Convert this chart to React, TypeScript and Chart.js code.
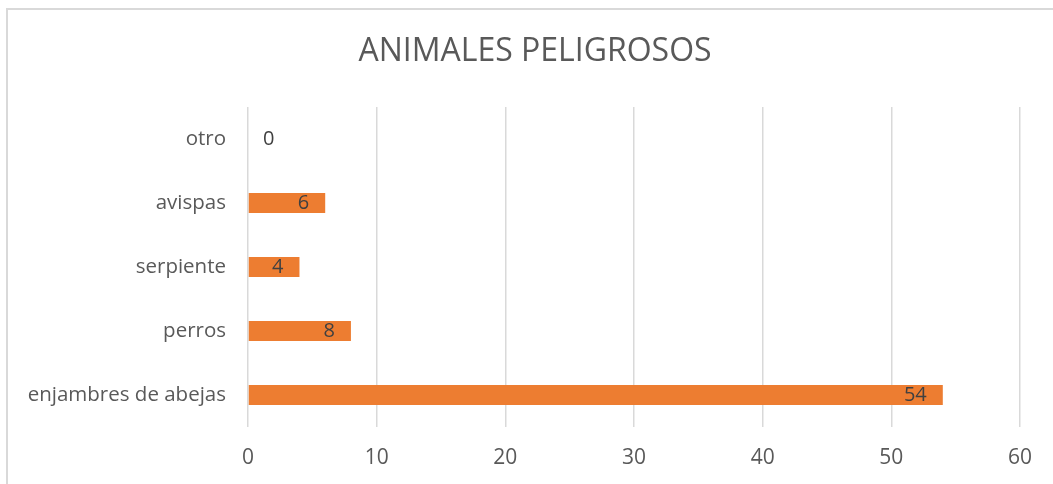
import React, { useEffect, useRef } from "react";
import { Chart, registerables } from "chart.js";

Chart.register(...registerables);

const categories = ["otro", "avispas", "serpiente", "perros", "enjambres de abejas"];
const values = [0, 6, 4, 8, 54];
const xTicks = [0, 10, 20, 30, 40, 50, 60];
const titleText = "ANIMALES PELIGROSOS";

const FONT = "'Open Sans', 'Noto Sans', sans-serif";

const dataLabelPlugin = {
  id: "dataLabels",
  afterDatasetsDraw(chart: any) {
    const ctx = chart.ctx;
    const meta = chart.getDatasetMeta(0);
    const xScale = chart.scales.x;
    ctx.save();
    ctx.font = `20px ${FONT}`;
    ctx.fillStyle = "#404040";
    ctx.textBaseline = "middle";
    meta.data.forEach((bar: any, i: number) => {
      const v = values[i];
      const txt = String(v);
      if (v === 0) {
        ctx.textAlign = "left";
        ctx.fillText(txt, xScale.getPixelForValue(0) + 15, bar.y);
      } else {
        ctx.textAlign = "right";
        ctx.fillText(txt, bar.x - 16, bar.y);
      }
    });
    ctx.restore();
  },
};

const titlePlugin = {
  id: "customTitle",
  afterDraw(chart: any) {
    const ctx = chart.ctx;
    ctx.save();
    ctx.font = `32px ${FONT}`;
    ctx.fillStyle = "#595959";
    ctx.textAlign = "center";
    ctx.textBaseline = "middle";
    ctx.fillText(titleText, 535, 52);
    ctx.restore();
  },
};

export default function App() {
  const ref = useRef<HTMLCanvasElement | null>(null);

  useEffect(() => {
    if (!ref.current) return;
    const chart = new Chart(ref.current, {
      type: "bar",
      data: {
        labels: categories,
        datasets: [
          {
            data: values,
            backgroundColor: "#ED7D31",
            barPercentage: 0.31,
            categoryPercentage: 1,
          },
        ],
      },
      options: {
        indexAxis: "y",
        animation: false,
        responsive: false,
        maintainAspectRatio: false,
        layout: { padding: { left: 0, right: 33, top: 107, bottom: 0 } },
        plugins: {
          legend: { display: false },
          tooltip: { enabled: false },
          title: { display: false },
        },
        scales: {
          x: {
            min: 0,
            max: 60,
            afterBuildTicks(scale: any) {
              scale.ticks = xTicks.map((v) => ({ value: v }));
            },
            afterFit(scale: any) {
              scale.height = 57;
            },
            grid: { color: "#d9d9d9", lineWidth: 1.5, drawTicks: false },
            border: { display: false },
            ticks: {
              color: "#595959",
              font: { family: FONT, size: 21 },
              padding: 18,
            },
          },
          y: {
            afterFit(scale: any) {
              scale.width = 248;
            },
            grid: { display: false, drawTicks: false },
            border: { display: false },
            ticks: {
              color: "#595959",
              font: { family: FONT, size: 20.5 },
              padding: 22,
            },
          },
        },
      },
      plugins: [dataLabelPlugin, titlePlugin],
    });
    return () => chart.destroy();
  }, []);

  return (
    <div
      style={{
        position: "absolute",
        left: 0,
        top: 0,
        width: 1053,
        height: 484,
        overflow: "hidden",
        background: "#fff",
      }}
    >
      <div
        style={{
          position: "absolute",
          left: 6,
          top: 8,
          width: 1080,
          height: 500,
          border: "2px solid #d9d9d9",
        }}
      />
      <canvas
        ref={ref}
        width={1053}
        height={484}
        style={{ position: "absolute", left: 0, top: 0, width: 1053, height: 484 }}
      />
    </div>
  );
}
